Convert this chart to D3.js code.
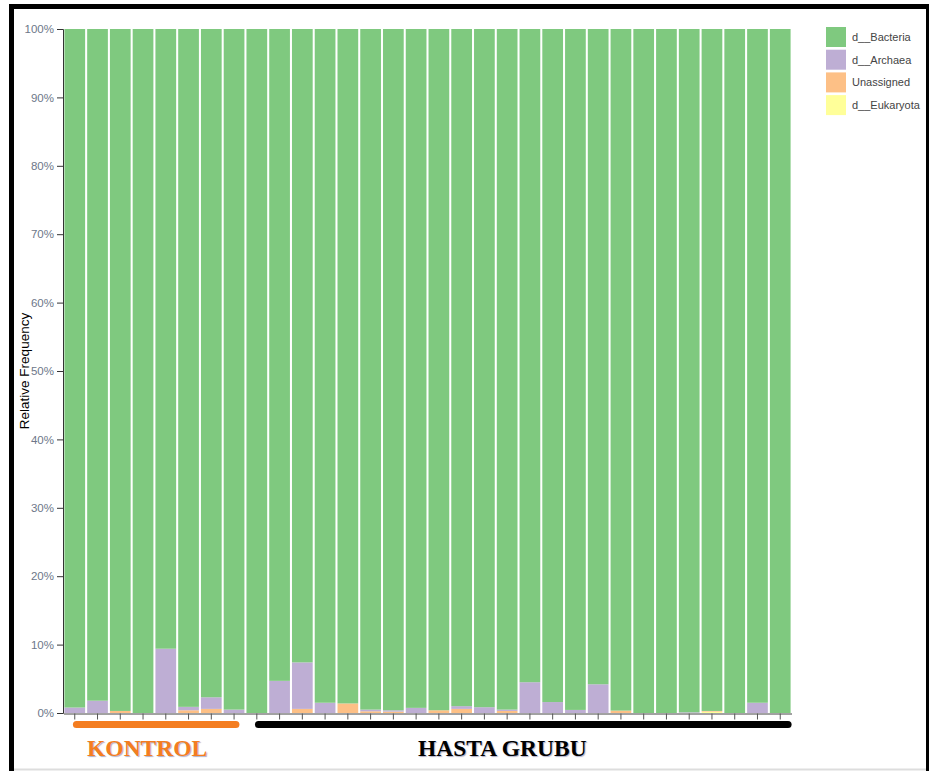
<!DOCTYPE html>
<html>
<head>
<meta charset="utf-8">
<script src="https://cdn.jsdelivr.net/npm/d3@7"></script>
<style>
  html, body { margin: 0; padding: 0; background: #fff; }
  svg { display: block; }
</style>
</head>
<body>
<svg id="chart" width="929" height="771"></svg>
<script>
// Samples: 8 control, 24 patient
const samples = d3.range(1, 33).map(i => (i <= 8 ? "K" + i : "H" + (i - 8)));

// Relative frequency (%) per sample, by domain
const bacteria   = [99.2, 98.2, 99.7, 100, 90.6, 99.1, 97.7, 99.5,
                    100, 95.3, 92.6, 98.5, 98.6, 99.5, 99.6, 99.25, 99.6, 99.0, 99.15, 99.5,
                    95.5, 98.4, 99.55, 95.8, 99.65, 100, 100, 99.9, 99.7, 100, 98.5, 100];
const archaea    = [0.8, 1.8, 0, 0, 9.4, 0.5, 1.7, 0.5,
                    0, 4.7, 6.8, 1.5, 0, 0.25, 0.2, 0.75, 0, 0.4, 0.85, 0.2,
                    4.5, 1.6, 0.45, 4.2, 0, 0, 0, 0.1, 0, 0, 1.5, 0];
const unassigned = [0, 0, 0.3, 0, 0, 0.4, 0.6, 0,
                    0, 0, 0.6, 0, 1.4, 0.25, 0.2, 0, 0.4, 0.6, 0, 0.3,
                    0, 0, 0, 0, 0.35, 0, 0, 0, 0.1, 0, 0, 0];
const eukaryota  = [0, 0, 0, 0, 0, 0, 0, 0,
                    0, 0, 0, 0, 0, 0, 0, 0, 0, 0, 0, 0,
                    0, 0, 0, 0, 0, 0, 0, 0, 0.2, 0, 0, 0];

const taxa = ["d__Bacteria", "d__Archaea", "Unassigned", "d__Eukaryota"];
const taxaColors = ["#7fc97f", "#beaed4", "#fdc086", "#ffff99"];
const yTicks = [0, 0.1, 0.2, 0.3, 0.4, 0.5, 0.6, 0.7, 0.8, 0.9, 1.0];
const groups = [
  { name: "KONTROL", first: 0, last: 7, color: "#f47d20", labelShift: -9 },
  { name: "HASTA GRUBU", first: 8, last: 31, color: "#000000", labelShift: -21 }
];

// Table built from the arrays above
const rows = samples.map((s, i) => ({
  sample: s,
  "d__Bacteria": bacteria[i] / 100,
  "d__Archaea": archaea[i] / 100,
  "Unassigned": unassigned[i] / 100,
  "d__Eukaryota": eukaryota[i] / 100
}));

const svg = d3.select("#chart");

// Outer frame
svg.append("line").attr("x1", 11.5).attr("x2", 11.5).attr("y1", 4).attr("y2", 771)
  .attr("stroke", "#000").attr("stroke-width", 5);
svg.append("line").attr("x1", 9).attr("x2", 929).attr("y1", 6.5).attr("y2", 6.5)
  .attr("stroke", "#000").attr("stroke-width", 5);
svg.append("line").attr("x1", 927.5).attr("x2", 927.5).attr("y1", 4).attr("y2", 771)
  .attr("stroke", "#000").attr("stroke-width", 3);
svg.append("line").attr("x1", 14).attr("x2", 926).attr("y1", 769.5).attr("y2", 769.5)
  .attr("stroke", "#ddd").attr("stroke-width", 2);

const x = d3.scaleBand().domain(samples).range([63.5, 791.5]).paddingInner(0.09).paddingOuter(0.04);
const y = d3.scaleLinear().domain([0, 1]).range([713, 29]);
const color = d3.scaleOrdinal().domain(taxa).range(taxaColors);

// Stack order: unassigned/eukaryota at the bottom, bacteria on top
const stackOrder = ["d__Eukaryota", "Unassigned", "d__Archaea", "d__Bacteria"];
const series = d3.stack().keys(stackOrder)(rows);

svg.append("g").selectAll("g")
  .data(series)
  .join("g")
  .attr("fill", d => color(d.key))
  .selectAll("rect")
  .data(d => d)
  .join("rect")
  .attr("x", d => x(d.data.sample))
  .attr("width", x.bandwidth())
  .attr("y", d => y(d[1]))
  .attr("height", d => Math.max(0, y(d[0]) - y(d[1])));

// Y axis
const yAxis = svg.append("g")
  .attr("transform", "translate(63,0)")
  .call(d3.axisLeft(y).tickValues(yTicks).tickFormat(d3.format(".0%")).tickSize(6));
yAxis.select(".domain").attr("stroke", "#333");
yAxis.selectAll(".tick line").attr("stroke", "#333");
yAxis.selectAll("text")
  .attr("fill", "#6d7789")
  .style("font-family", "Liberation Sans, Arial, sans-serif")
  .style("font-size", "11.5px");

// X axis (unlabelled sample ticks)
const xAxis = svg.append("g")
  .attr("transform", "translate(0,713.5)")
  .call(d3.axisBottom(x).tickFormat("").tickSize(6).tickSizeOuter(0));
xAxis.select(".domain").attr("stroke", "#444");
xAxis.selectAll(".tick line").attr("stroke", "#555");

// Y axis title
svg.append("text")
  .attr("transform", "translate(29,371) rotate(-90)")
  .attr("text-anchor", "middle")
  .style("font-family", "Liberation Sans, Arial, sans-serif")
  .style("font-size", "13.5px")
  .attr("fill", "#000")
  .text("Relative Frequency");

// Legend
const legend = svg.append("g").attr("transform", "translate(826,27)");
taxa.forEach((t, i) => {
  const g = legend.append("g").attr("transform", `translate(0,${i * 22.7})`);
  g.append("rect").attr("width", 20).attr("height", 20).attr("fill", color(t));
  g.append("text")
    .attr("x", 26).attr("y", 14)
    .style("font-family", "Liberation Sans, Arial, sans-serif")
    .style("font-size", "11px")
    .attr("fill", "#444")
    .text(t);
});

// Group brackets and labels
groups.forEach(gr => {
  const isLast = gr.last === samples.length - 1;
  const x0 = x(samples[gr.first]) + 12;
  const x1 = x(samples[gr.last]) + x.bandwidth() - (isLast ? 2.5 : 8.5);
  svg.append("line")
    .attr("x1", x0).attr("x2", x1)
    .attr("y1", 724.5).attr("y2", 724.5)
    .attr("stroke", gr.color).attr("stroke-width", 7)
    .attr("stroke-linecap", "round");
  svg.append("text")
    .attr("x", (x0 + x1) / 2 + gr.labelShift)
    .attr("y", 756)
    .attr("text-anchor", "middle")
    .style("font-family", "Liberation Serif, 'Times New Roman', serif")
    .style("font-weight", "bold")
    .style("font-size", "23.5px")
    .style("text-shadow", "1px 1px 1px rgba(120,120,160,0.6)")
    .attr("fill", gr.color)
    .text(gr.name);
});
</script>
</body>
</html>
